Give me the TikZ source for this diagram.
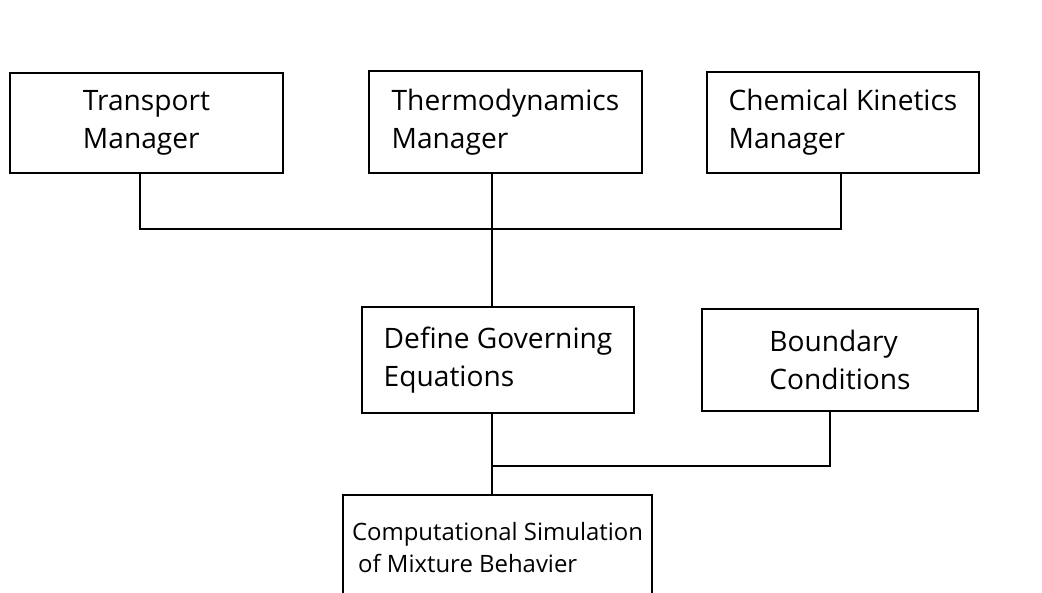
\documentclass[tikz,border=0pt]{standalone}
\usepackage{fontspec}
\setmainfont{Open Sans}
\usetikzlibrary{positioning}

\tikzset{
  box/.style={draw, line width=2pt, rectangle, align=left, inner sep=0pt,
    font=\fontsize{20}{27}\selectfont},
  link/.style={line width=2pt}
}

\begin{document}
\begin{tikzpicture}[x=0.025cm,y=-0.025cm]
\useasboundingbox (0,0) rectangle (1042,593);
% managers
\node[box, minimum width=6.825cm, minimum height=2.5cm] (tm) at (146.5,123) {Transport\\Manager};
\node[box, minimum width=6.825cm, minimum height=2.55cm] (td) at (505.5,122) {Thermodynamics\\Manager};
\node[box, minimum width=6.8cm, minimum height=2.525cm] (ck) at (843,122.5) {Chemical Kinetics\\Manager};
% middle row
\node[box, minimum width=6.8cm, minimum height=2.65cm] (dg) at (498,360) {Define Governing\\Equations};
\node[box, minimum width=6.9cm, minimum height=2.55cm] (bc) at (840,360) {Boundary\\Conditions};
% result
\node[box, minimum width=7.725cm, minimum height=2.625cm,
  font=\fontsize{17}{23}\selectfont] (cs) at (497.5,547.5) {Computational Simulation\\\ of Mixture Behavier};
% joints
\coordinate (jt) at (140,229);
\coordinate (jd) at (492,229);
\coordinate (jk) at (841,229);
\coordinate (je) at (492,466);
\coordinate (jb) at (830,466);
\draw[link] (jt |- tm.south) -- (jt) -- (jk) -- (jk |- ck.south);
\draw[link] (jd |- td.south) -- (jd |- dg.north);
\draw[link] (je |- dg.south) -- (je |- cs.north);
\draw[link] (je) -- (jb) -- (jb |- bc.south);
\end{tikzpicture}
\end{document}
